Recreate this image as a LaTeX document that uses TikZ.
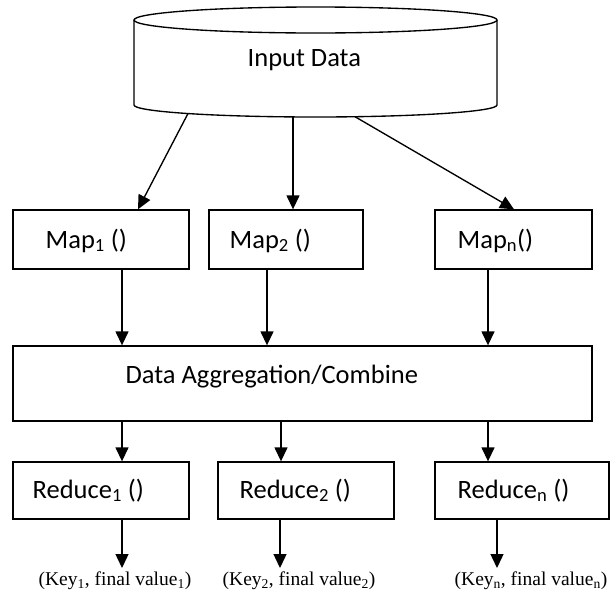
\documentclass[tikz,border=0pt]{standalone}
\usepackage{fontspec}
\setmainfont{Carlito}
\newfontfamily\serifface{Liberation Serif}
\usetikzlibrary{arrows.meta}
\newcommand\lowidx[1]{\textsubscript{#1}}
\begin{document}
\begin{tikzpicture}[x=1pt,y=-1pt,
  line width=1.35pt,
  box/.style={draw, rectangle, inner sep=0pt, line width=1.35pt},
  txt/.style={anchor=base west, inner sep=0pt, font=\fontsize{26.5}{30}\selectfont},
  result/.style={anchor=base west, inner sep=0pt, font=\serifface\fontsize{19.5}{22}\selectfont},
  arr/.style={-{Triangle[length=14pt,width=13pt]}, line width=1.35pt}]
\useasboundingbox (0,0) rectangle (612,592);

% storage cylinder for the input
\draw[fill=white] (315.5,20) ellipse [x radius=181.5, y radius=13];
\draw (134,20) -- (134,105) arc[start angle=180, end angle=0, x radius=181.5, y radius=12] -- (497,20);
\node[txt] (inp) at (247,66) {Input Data};
\coordinate (s1) at (188,113.5);
\coordinate (s2) at (293,116.9);
\coordinate (s3) at (355,116.7);

% map stage
\node[box, minimum width=176pt, minimum height=59pt] (m1) at (101,239.5) {};
\node[box, minimum width=154pt, minimum height=59pt] (m2) at (286,239.5) {};
\node[box, minimum width=157pt, minimum height=59pt] (mn) at (513.5,239.5) {};
\node[txt] (m1t) at (45,248) {Map\lowidx{1} ()};
\node[txt] (m2t) at (229,248) {Map\lowidx{2} ()};
\node[txt] (mnt) at (457,248) {Map\lowidx{n}()};

% aggregation stage
\node[box, minimum width=579pt, minimum height=75pt] (agg) at (302.5,383.5) {};
\node[txt] (aggt) at (125,383) {Data Aggregation/Combine};

% reduce stage
\node[box, minimum width=176pt, minimum height=57pt] (r1) at (101,490.5) {};
\node[box, minimum width=176pt, minimum height=57pt] (r2) at (306,490.5) {};
\node[box, minimum width=174pt, minimum height=57pt] (rn) at (522,490.5) {};
\node[txt] (r1t) at (32,498) {Reduce\lowidx{1} ()};
\node[txt] (r2t) at (239,498) {Reduce\lowidx{2} ()};
\node[txt] (rnt) at (457,498) {Reduce\lowidx{n} ()};

% results
\node[result] (k1) at (38,585) {(Key\lowidx{1}, final value\lowidx{1})};
\node[result] (k2) at (222,585) {(Key\lowidx{2}, final value\lowidx{2})};
\node[result] (kn) at (454,585) {(Key\lowidx{n}, final value\lowidx{n})};

% column guides for the connectors
\coordinate (t1) at (138,0);
\coordinate (t3) at (514,0);
\coordinate (a1) at (122,0);
\coordinate (a2) at (267,0);
\coordinate (a3) at (488,0);
\coordinate (b2) at (281,0);
\coordinate (o1) at (122,568);
\coordinate (o2) at (280,568);
\coordinate (o3) at (497,568);

% connectors
\draw[arr] (s1) -- (m1.north -| t1);
\draw[arr] (s2) -- (m2.north -| s2);
\draw[arr] (s3) -- (mn.north -| t3);

\draw[arr] (m1.south -| a1) -- (agg.north -| a1);
\draw[arr] (m2.south -| a2) -- (agg.north -| a2);
\draw[arr] (mn.south -| a3) -- (agg.north -| a3);

\draw[arr] (agg.south -| a1) -- (r1.north -| a1);
\draw[arr] (agg.south -| b2) -- (r2.north -| b2);
\draw[arr] (agg.south -| a3) -- (rn.north -| a3);

\draw[arr] (r1.south -| o1) -- (o1);
\draw[arr] (r2.south -| o2) -- (o2);
\draw[arr] (rn.south -| o3) -- (o3);
\end{tikzpicture}
\end{document}
